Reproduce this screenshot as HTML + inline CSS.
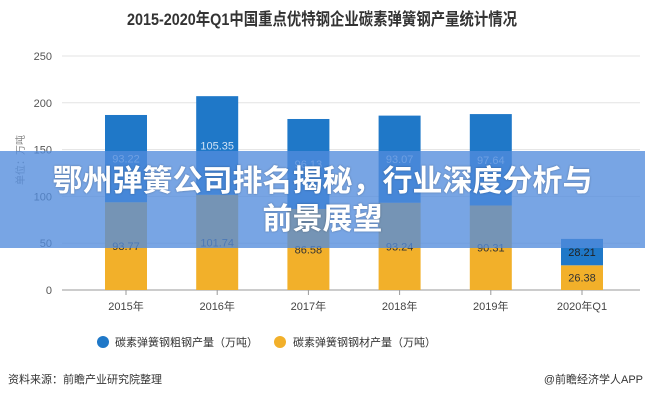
<!DOCTYPE html>
<html><head><meta charset="utf-8"><style>
body{margin:0;width:645px;height:400px;overflow:hidden;background:#fff;font-family:"Liberation Sans","Noto Sans CJK SC",sans-serif;}
svg{position:absolute;left:0;top:0}
#banner{position:absolute;left:0;top:151px;width:645px;height:97px;background:rgba(82,140,220,0.78);color:#fff;font-weight:bold;font-size:30px;text-align:center;line-height:38px;padding-top:12px;box-sizing:border-box;font-family:"Liberation Sans","Noto Sans CJK SC",sans-serif;text-shadow:0 0 2px rgba(0,0,0,0.3)}
</style></head><body>
<svg id="chart" width="645" height="400"></svg>
<div id="banner">鄂州弹簧公司排名揭秘，行业深度分析与<br>前景展望</div>
<script>
const categories=["2015年","2016年","2017年","2018年","2019年","2020年Q1"];
const crudeSteel=[93.22,105.35,96.13,93.07,97.64,28.21];
const steelProduct=[93.77,101.74,86.58,93.24,90.31,26.38];
const yTicks=[0,50,100,150,200,250];
const NS="http://www.w3.org/2000/svg";
const svg=document.getElementById('chart');
const x0=62,x1=640,yBase=290,yTop=56,yMax=250;
const y=v=>yBase-(v/yMax)*(yBase-yTop);
const step=91.2;
const xc=i=>126+step*i;
function el(t,a,txt){const e=document.createElementNS(NS,t);for(const k in a)e.setAttribute(k,a[k]);if(txt!==undefined)e.textContent=txt;svg.appendChild(e);return e;}
let t=el('text',{x:322,y:25,'text-anchor':'middle','font-size':17,'font-weight':'bold',fill:'#333',textLength:390,lengthAdjust:'spacingAndGlyphs'},'2015-2020年Q1中国重点优特钢企业碳素弹簧钢产量统计情况');


yTicks.forEach(v=>{
 const l=el('line',{x1:x0,x2:x1,y1:y(v),y2:y(v),stroke:v===0?'#999':'#e3e3e3','stroke-width':1});
 
 
 const tx=el('text',{x:52,y:y(v)+4,'text-anchor':'end','font-size':11,fill:'#555'},v);
 
 
});
t=el('text',{x:24,y:160,'font-size':10,fill:'#888',transform:'rotate(-90 24 160)','text-anchor':'middle'},'单位：万吨');


const bw=42;
categories.forEach((c,i)=>{
 const cx=xc(i);
 const yT=y(steelProduct[i]);
 const yC=y(steelProduct[i]+crudeSteel[i]);
 const r1=el('rect',{x:cx-bw/2,y:yT,width:bw,height:yBase-yT,fill:'#f2b02a'});
 
 
 const r2=el('rect',{x:cx-bw/2,y:yC,width:bw,height:yT-yC,fill:'#1f78c8'});
 
 
 const l1=el('text',{x:cx,y:(yT+yBase)/2+4,'text-anchor':'middle','font-size':11,fill:'#333'},steelProduct[i].toFixed(2));
 
 
 const l2=el('text',{x:cx,y:(yC+yT)/2+4,'text-anchor':'middle','font-size':11,fill:i===5?'#222':'#cfe2f5'},crudeSteel[i].toFixed(2));
 
 
 const tk=el('line',{x1:cx,x2:cx,y1:yBase,y2:yBase+5,stroke:'#999'});
 
 
 const xl=el('text',{x:cx,y:yBase+20,'text-anchor':'middle','font-size':11,fill:'#444'},c);
 
 
});
let c1=el('circle',{cx:103,cy:342,r:6,fill:'#1f78c8'});


t=el('text',{x:115,y:346,'font-size':11,fill:'#333'},'碳素弹簧钢粗钢产量（万吨）');


c1=el('circle',{cx:280,cy:342,r:6,fill:'#f2b02a'});


t=el('text',{x:293,y:346,'font-size':11,fill:'#333'},'碳素弹簧钢钢材产量（万吨）');


t=el('text',{x:8,y:383,'font-size':11,fill:'#333'},'资料来源：前瞻产业研究院整理');


t=el('text',{x:643,y:383,'text-anchor':'end','font-size':11,fill:'#333'},'@前瞻经济学人APP');


</script>
</body></html>
